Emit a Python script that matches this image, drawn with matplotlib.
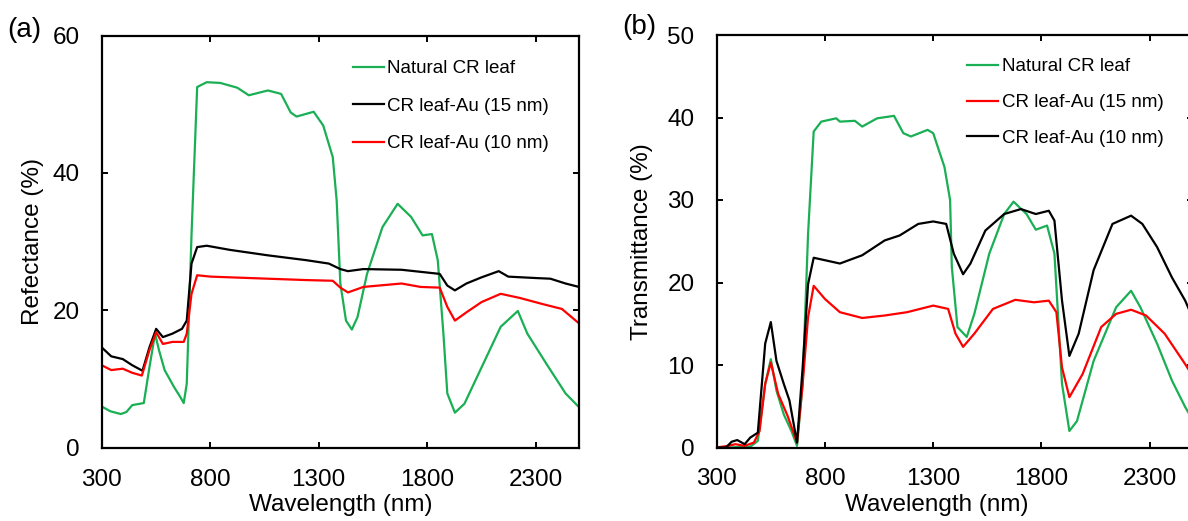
import matplotlib
matplotlib.use("Agg")
import matplotlib.pyplot as plt

plt.rcParams['font.family'] = ['Liberation Sans', 'DejaVu Sans']

GREEN = '#1aaf54'
RED = '#ff0000'
BLACK = '#000000'

# ---------------- Panel (a): reflectance ----------------
wl_a_nat = [300, 340, 388, 414, 441, 494, 520, 546, 564, 590, 634, 660, 678, 692, 714, 740, 784,
            846, 925, 978, 1066, 1127, 1171, 1198, 1277, 1321, 1365, 1383, 1400, 1426, 1453,
            1479, 1523, 1594, 1664, 1726, 1779, 1822, 1849, 1875, 1893, 1928, 1972, 2051,
            2139, 2218, 2262, 2350, 2438, 2500]
ref_nat = [6.0, 5.3, 4.9, 5.2, 6.2, 6.5, 11.7, 16.6, 14.2, 11.3, 8.8, 7.5, 6.5, 9.3, 31.0, 52.5, 53.2,
           53.1, 52.4, 51.3, 52.0, 51.5, 48.8, 48.2, 48.9, 46.9, 42.3, 36.0, 23.9, 18.5, 17.2,
           19.0, 25.3, 32.1, 35.5, 33.6, 30.9, 31.1, 27.3, 16.6, 7.9, 5.1, 6.4, 11.7,
           17.6, 19.9, 16.6, 12.2, 7.9, 5.9]

wl_a_15 = [300, 344, 397, 441, 488, 520, 551, 582, 626, 670, 692, 714, 740, 784, 890, 1066, 1242,
           1347, 1400, 1435, 1506, 1682, 1770, 1858, 1893, 1928, 1981, 2051, 2130, 2174, 2298,
           2368, 2438, 2500]
ref_15 = [14.6, 13.3, 12.9, 12.0, 11.2, 14.6, 17.3, 16.1, 16.6, 17.3, 18.5, 26.8, 29.2, 29.4, 28.8,
          28.0, 27.3, 26.8, 26.0, 25.7, 26.0, 25.9, 25.6, 25.3, 23.6, 22.9, 23.9, 24.8, 25.7,
          24.9, 24.7, 24.6, 23.9, 23.4]

wl_a_10 = [300, 344, 397, 441, 485, 520, 551, 582, 626, 678, 692, 714, 740, 802, 978, 1242, 1365,
           1400, 1435, 1506, 1682, 1770, 1858, 1893, 1928, 1981, 2051, 2139, 2227, 2333, 2421, 2500]
ref_10 = [12.0, 11.3, 11.5, 10.9, 10.5, 14.2, 16.8, 15.1, 15.4, 15.4, 16.6, 22.4, 25.1, 24.9, 24.7,
          24.4, 24.3, 23.3, 22.6, 23.4, 23.9, 23.4, 23.3, 20.5, 18.5, 19.7, 21.2, 22.4, 21.8,
          20.9, 20.2, 18.1]

# ---------------- Panel (b): transmittance ----------------
wl_b_nat = [300, 352, 455, 490, 524, 550, 576, 610, 645, 671, 697, 722, 748, 783, 852, 869, 938,
            972, 1041, 1119, 1162, 1197, 1274, 1300, 1352, 1378, 1386, 1412, 1455, 1490, 1559,
            1628, 1671, 1731, 1774, 1826, 1860, 1895, 1929, 1964, 2041, 2145, 2214, 2257,
            2334, 2403, 2464, 2500]
tra_nat = [0.0, 0.0, 0.1, 0.8, 7.7, 10.7, 6.9, 4.0, 2.0, 0.2, 7.7, 25.9, 38.3, 39.5, 39.9, 39.5,
           39.6, 38.9, 39.9, 40.2, 38.1, 37.7, 38.5, 38.1, 34.0, 30.0, 21.9, 14.6, 13.4, 16.2,
           23.5, 28.3, 29.8, 28.3, 26.4, 26.9, 23.5, 7.7, 2.0, 3.2, 10.5, 17.0, 19.0, 17.0,
           12.6, 8.1, 4.9, 3.3]

wl_b_15 = [300, 352, 386, 429, 472, 498, 524, 550, 584, 628, 671, 697, 722, 748, 800, 869, 972,
           1076, 1179, 1300, 1369, 1403, 1438, 1490, 1576, 1679, 1766, 1834, 1869, 1895, 1929,
           1990, 2076, 2145, 2214, 2283, 2369, 2464, 2500]
tra_15 = [0.0, 0.2, 0.4, 0.2, 0.6, 2.0, 7.7, 10.3, 6.5, 3.8, 0.6, 7.7, 15.8, 19.6, 18.0, 16.4,
          15.7, 16.0, 16.4, 17.2, 16.8, 13.8, 12.2, 13.8, 16.8, 17.9, 17.6, 17.8, 16.4, 9.7,
          6.1, 8.9, 14.6, 16.2, 16.7, 16.0, 13.8, 10.1, 8.6]

wl_b_10 = [300, 343, 369, 395, 429, 455, 490, 524, 550, 576, 610, 636, 671, 697, 722, 748, 800,
           869, 972, 1076, 1145, 1231, 1300, 1360, 1395, 1438, 1472, 1541, 1628, 1705, 1774,
           1834, 1860, 1895, 1929, 1972, 2041, 2128, 2214, 2266, 2334, 2403, 2464, 2500]
tra_10 = [0.0, 0.0, 0.7, 0.9, 0.4, 1.2, 1.8, 12.6, 15.2, 10.5, 7.7, 5.7, 0.6, 9.7, 19.8, 23.0,
          22.7, 22.3, 23.3, 25.1, 25.7, 27.1, 27.4, 27.1, 23.5, 21.0, 22.3, 26.3, 28.3, 28.9,
          28.3, 28.7, 27.5, 17.8, 11.1, 13.8, 21.5, 27.1, 28.1, 27.1, 24.3, 20.6, 17.8, 15.6]

labels_a = ['Natural CR leaf', 'CR leaf-Au (15 nm)', 'CR leaf-Au (10 nm)']
labels_b = ['Natural CR leaf', 'CR leaf-Au (15 nm)', 'CR leaf-Au (10 nm)']
xticks = [300, 800, 1300, 1800, 2300]
yticks_a = [0, 20, 40, 60]
yticks_b = [0, 10, 20, 30, 40, 50]

W, H = 1188, 521
fig = plt.figure(figsize=(W / 100, H / 100), dpi=100)

def px_axes(x0, y0, x1, y1):
    return [x0 / W, 1 - y1 / H, (x1 - x0) / W, (y1 - y0) / H]

ax_a = fig.add_axes(px_axes(101.7, 35.5, 579, 447.7))
ax_b = fig.add_axes(px_axes(716.7, 35.0, 1193, 447.5))

LW = 1.6
ax_a.plot(wl_a_nat, ref_nat, color=GREEN, lw=LW, label=labels_a[0])
ax_a.plot(wl_a_15, ref_15, color=BLACK, lw=LW, label=labels_a[1])
ax_a.plot(wl_a_10, ref_10, color=RED, lw=LW, label=labels_a[2])

ax_b.plot(wl_b_nat, tra_nat, color=GREEN, lw=LW, label=labels_b[0])
ax_b.plot(wl_b_15, tra_15, color=RED, lw=LW, label=labels_b[1])
ax_b.plot(wl_b_10, tra_10, color=BLACK, lw=LW, label=labels_b[2])

FS = 17.5
for ax, yt, ylab, ylx in [(ax_a, yticks_a, 'Refectance (%)', -0.121),
                          (ax_b, yticks_b, 'Transmittance (%)', -0.133)]:
    ax.set_xlim(300, 2500)
    ax.set_ylim(yt[0], yt[-1])
    ax.set_xticks(xticks)
    ax.set_yticks(yt)
    ax.tick_params(direction='in', length=4.5, width=1.4, labelsize=FS,
                   top=True, right=True, colors='black')
    ax.tick_params(axis='x', pad=15)
    ax.tick_params(axis='y', pad=16)
    for s in ax.spines.values():
        s.set_linewidth(1.6)
    ax.set_xlabel('Wavelength (nm)', fontsize=FS)
    ax.set_ylabel(ylab, fontsize=FS)
    ax.yaxis.set_label_coords(ylx, 0.5)

ax_a.xaxis.set_label_coords(0.5, -0.112)
ax_b.xaxis.set_label_coords(0.4626, -0.112)

ax_a.legend(loc='upper left', bbox_to_anchor=(0.5255, 0.94), frameon=False, fontsize=13.5,
            handlelength=1.66, handletextpad=0.2, labelspacing=1.08, borderpad=0,
            borderaxespad=0)
ax_b.legend(loc='upper left', bbox_to_anchor=(0.5255, 0.944), frameon=False, fontsize=13.5,
            handlelength=1.66, handletextpad=0.2, labelspacing=1.0, borderpad=0,
            borderaxespad=0)

fig.text(7 / W, 1 - 30 / H, '(a)', fontsize=20, ha='left', va='center')
fig.text(622 / W, 1 - 27 / H, '(b)', fontsize=20, ha='left', va='center')

fig.savefig('out.png', dpi=100)
